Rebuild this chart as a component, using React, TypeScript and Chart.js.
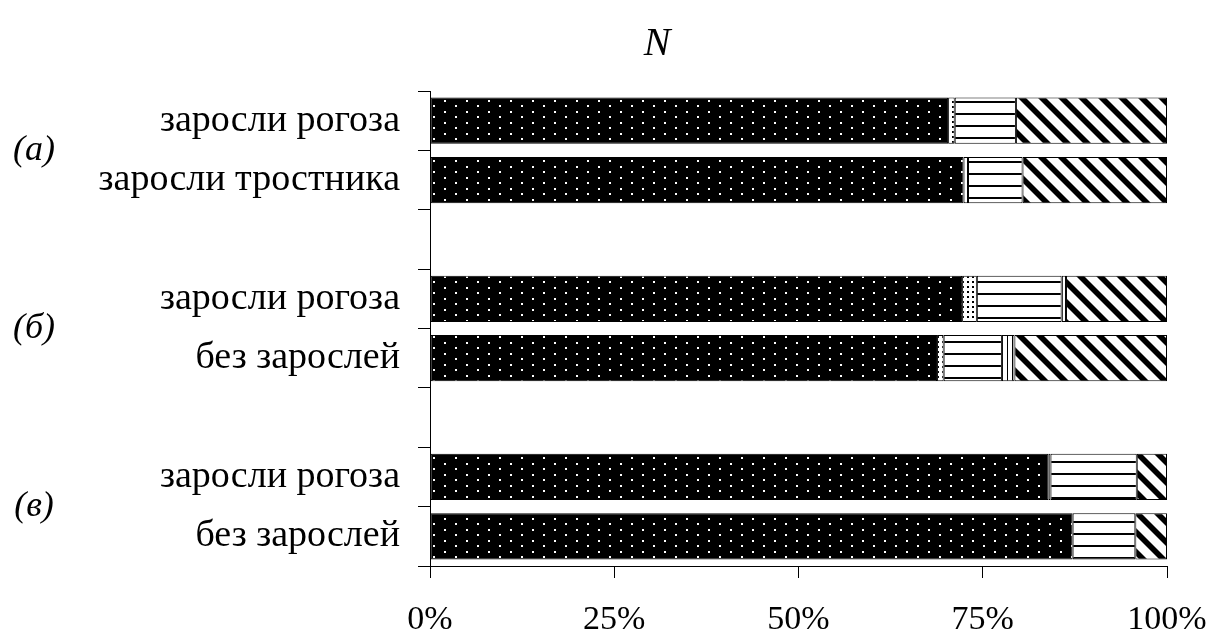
import React, { useEffect, useRef } from "react";
import { Chart, registerables } from "chart.js";

Chart.register(...registerables);

// Categories (empty strings are spacer rows between groups)
const categories = [
  "заросли рогоза",
  "заросли тростника",
  "",
  "заросли рогоза",
  "без зарослей",
  "",
  "заросли рогоза",
  "без зарослей",
];

// Group labels, each spanning a pair of category rows
const groupLabels = ["(а)", "(б)", "(в)"];
const groupRows = [
  [0, 1],
  [3, 4],
  [6, 7],
];

const titleText = "N";

// Series values (% of total)
const seriesA = [70.3, 72.4, null, 72.2, 68.8, null, 83.9, 87.2];
const seriesB = [0.9, 0.6, null, 2.0, 0.9, null, 0.3, null];
const seriesC = [8.3, 7.4, null, 11.5, 7.9, null, 11.7, 8.5];
const seriesD = [null, null, null, 0.6, 1.7, null, null, null];
const seriesE = [20.5, 19.6, null, 13.7, 20.7, null, 4.1, 4.3];

const xTickLabels = ["0%", "25%", "50%", "75%", "100%"];

function makeTile(w: number, h: number, draw: (c: CanvasRenderingContext2D) => void) {
  const cv = document.createElement("canvas");
  cv.width = w;
  cv.height = h;
  const c = cv.getContext("2d")!;
  draw(c);
  return cv;
}

function makePatterns(ctx: CanvasRenderingContext2D) {
  const dense = makeTile(22, 11, (c) => {
    c.fillStyle = "#000";
    c.fillRect(0, 0, 22, 11);
    c.fillStyle = "#fff";
    c.fillRect(4, 1, 2, 2);
    c.fillRect(15, 6, 2, 2);
  });
  const sparse = makeTile(5, 5, (c) => {
    c.fillStyle = "#fff";
    c.fillRect(0, 0, 5, 5);
    c.fillStyle = "#000";
    c.fillRect(2, 1, 2, 2);
  });
  const horiz = makeTile(8, 12, (c) => {
    c.fillStyle = "#fff";
    c.fillRect(0, 0, 8, 12);
    c.fillStyle = "#000";
    c.fillRect(0, 5, 8, 2);
  });
  const vert = makeTile(5, 8, (c) => {
    c.fillStyle = "#fff";
    c.fillRect(0, 0, 5, 8);
    c.fillStyle = "#000";
    c.fillRect(2, 0, 1, 8);
  });
  const P = 20;
  const diag = makeTile(P, P, (c) => {
    c.fillStyle = "#fff";
    c.fillRect(0, 0, P, P);
    c.fillStyle = "#000";
    const w = 8;
    for (const x0 of [-P, 0, P]) {
      c.beginPath();
      c.moveTo(x0, 0);
      c.lineTo(x0 + w, 0);
      c.lineTo(x0 + w + P, P);
      c.lineTo(x0 + P, P);
      c.closePath();
      c.fill();
    }
  });
  return {
    dense: ctx.createPattern(dense, "repeat")!,
    sparse: ctx.createPattern(sparse, "repeat")!,
    horiz: ctx.createPattern(horiz, "repeat")!,
    vert: ctx.createPattern(vert, "repeat")!,
    diag: ctx.createPattern(diag, "repeat")!,
  };
}

const SERIF = '"Liberation Serif", "Times New Roman", serif';

export default function App() {
  const ref = useRef<HTMLCanvasElement | null>(null);

  useEffect(() => {
    const canvas = ref.current!;
    const ctx = canvas.getContext("2d")!;
    const p = makePatterns(ctx);

    const overlay = {
      id: "overlay",
      afterDraw(chart: any) {
        const c = chart.ctx;
        const y = chart.scales.y;
        c.save();
        c.fillStyle = "#000";
        c.textAlign = "center";
        c.textBaseline = "middle";
        c.font = `italic 36px ${SERIF}`;
        groupLabels.forEach((lab, i) => {
          const [a, b] = groupRows[i];
          const yc = (y.getPixelForValue(a) + y.getPixelForValue(b)) / 2;
          c.fillText(lab, 34, yc);
        });
        c.font = `italic 40px ${SERIF}`;
        c.fillText(titleText, 657, 44);
        c.restore();
      },
    };

    const common = {
      borderColor: "#000",
      borderWidth: 1,
      borderSkipped: false as const,
      barPercentage: 0.78,
      categoryPercentage: 1,
    };

    const chart = new Chart(ctx, {
      type: "bar",
      data: {
        labels: categories,
        datasets: [
          { label: "A", data: seriesA, backgroundColor: p.dense, ...common },
          { label: "B", data: seriesB, backgroundColor: p.sparse, ...common },
          { label: "C", data: seriesC, backgroundColor: p.horiz, ...common },
          { label: "D", data: seriesD, backgroundColor: p.vert, ...common },
          { label: "E", data: seriesE, backgroundColor: p.diag, ...common },
        ] as any,
      },
      options: {
        indexAxis: "y",
        animation: false,
        responsive: false,
        layout: { padding: { top: 91, right: 44, left: 0, bottom: 0 } },
        plugins: {
          legend: { display: false },
          tooltip: { enabled: false },
          title: { display: false },
        },
        scales: {
          x: {
            stacked: true,
            min: 0,
            max: 100,
            ticks: {
              stepSize: 25,
              color: "#000",
              font: { family: SERIF, size: 34 },
              padding: 22,
              maxRotation: 0,
              callback: (_v: any, i: number) => xTickLabels[i],
            },
            grid: {
              drawOnChartArea: false,
              drawTicks: true,
              tickLength: 12,
              color: "#000",
            },
            border: { display: true, color: "#000" },
            afterFit: (s: any) => {
              s.height = 78;
              s.paddingLeft = 0;
              s.paddingRight = 0;
            },
          },
          y: {
            stacked: true,
            ticks: {
              color: "#000",
              font: { family: SERIF, size: 38 },
              padding: 18,
              autoSkip: false,
            },
            grid: {
              drawOnChartArea: false,
              drawTicks: true,
              tickLength: 12,
              offset: true,
              color: "#000",
            },
            border: { display: true, color: "#000" },
            afterFit: (s: any) => {
              s.width = 430;
              s.paddingTop = 0;
              s.paddingBottom = 0;
            },
          },
        },
      },
      plugins: [overlay],
    } as any);

    return () => chart.destroy();
  }, []);

  return (
    <div style={{ position: "absolute", left: 0, top: 0, width: 1211, height: 644 }}>
      <canvas ref={ref} width={1211} height={644} style={{ display: "block" }} />
    </div>
  );
}
